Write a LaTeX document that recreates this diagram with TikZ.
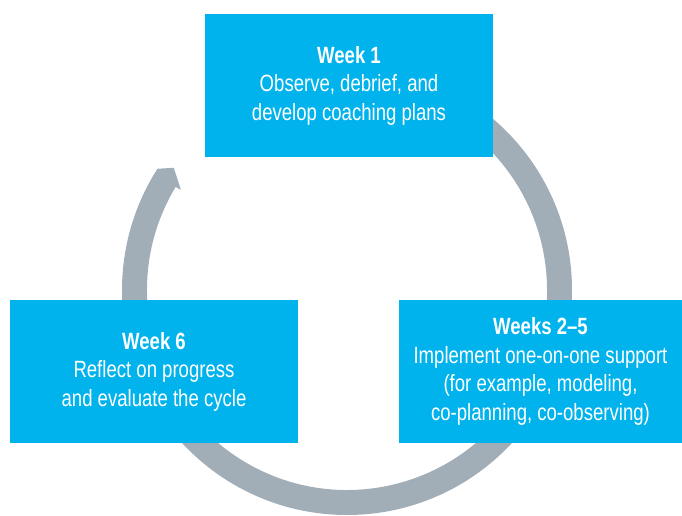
\documentclass[tikz,border=0pt]{standalone}
\usepackage{fontspec}
\setmainfont{Liberation Sans}[FakeStretch=0.79]
\usepackage{tikz}
\definecolor{boxblue}{RGB}{0,179,236}
\definecolor{ringgray}{RGB}{162,174,183}

\tikzset{
	weekbox/.style={fill=boxblue, text=white, align=center, inner sep=0pt,
		minimum height=143pt, font=\fontsize{23.5}{28.5}\selectfont},
	ring/.style={fill=ringgray}
}

\begin{document}
\begin{tikzpicture}[x=1pt,y=1pt]
				\useasboundingbox (0,0) rectangle (682,516);
				% cycle ring, clockwise, ends in the arrow tip
				\begin{scope}[shift={(347,226)}]
				\fill[ring] (90:225) arc[start angle=90, end angle=-212.6, radius=225]
					-- (-215.2:212) -- (-211.1:194) -- (-211:200)
					arc[start angle=-211, end angle=90, radius=200] -- cycle;
				\end{scope}
				
				\node[weekbox, minimum width=288pt] (week1) at (349,430.5)
					{\textbf{Week 1}\\Observe, debrief, and\\develop coaching plans};
				\node[weekbox, minimum width=283pt] (week25) at (540.5,144.5)
					{\textbf{Weeks 2--5}\\Implement one-on-one support\\(for example, modeling,\\co-planning, co-observing)};
				\node[weekbox, minimum width=288pt] (week6) at (154,144.5)
					{\textbf{Week 6}\\Reflect on progress\\and evaluate the cycle};
			\end{tikzpicture}
\end{document}
